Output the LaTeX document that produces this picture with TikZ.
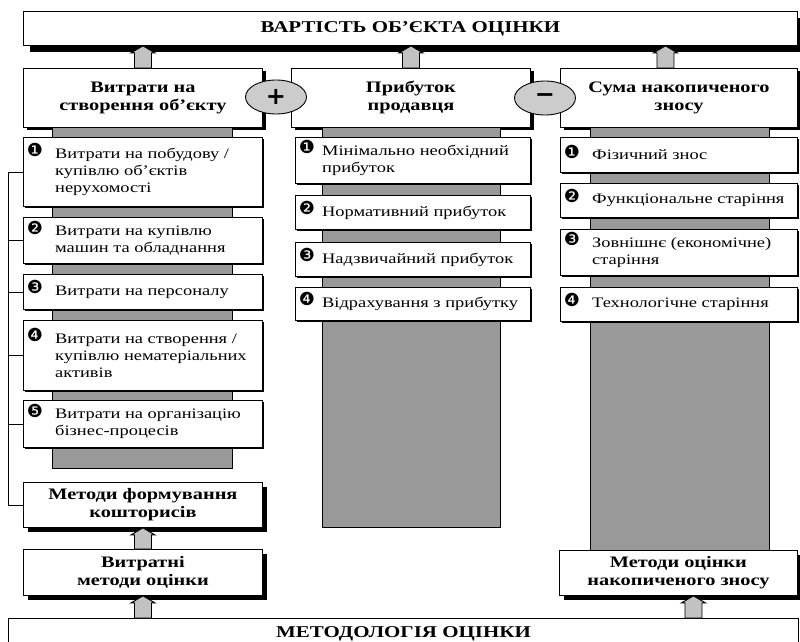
\documentclass[tikz,border=0pt]{standalone}
\usepackage{fontspec}
\setmainfont[FakeStretch=1.27]{Liberation Serif}
\newfontfamily\dingfont{DejaVu Sans}
\usetikzlibrary{shadows,calc,shapes.geometric}

\definecolor{colgray}{gray}{0.6}
\definecolor{arrgray}{gray}{0.76}
\definecolor{ovalgray}{gray}{0.8}

\tikzset{
  framebox/.style={draw=black, line width=0.9pt, fill=white, inner sep=0pt, anchor=north west},
  bigshadow/.style={general shadow={fill=black, shadow xshift=7pt, shadow yshift=-7pt}},
  midshadow/.style={general shadow={fill=black, shadow xshift=5pt, shadow yshift=-5pt}},
  hdrshadow/.style={general shadow={fill=black, shadow xshift=4pt, shadow yshift=-3pt}},
  thinshadow/.style={general shadow={fill=black, shadow xshift=1.5pt, shadow yshift=-1.5pt}},
  hdrbox/.style={framebox, hdrshadow, align=center, font=\bfseries\fontsize{16}{18}\selectfont},
  methbox/.style={framebox, midshadow, align=center, font=\bfseries\fontsize{16}{18}\selectfont},
  itembox/.style={framebox, thinshadow},
  itemtext/.style={anchor=west, align=left, inner sep=0pt, font=\fontsize{14.5}{17}\selectfont},
  bulletmark/.style={inner sep=0pt, font=\dingfont\fontsize{18}{18}\selectfont},
  column/.style={draw=black, line width=0.9pt, fill=colgray, anchor=north west, inner sep=0pt},
  sign/.style={ellipse, draw=black, line width=0.9pt, fill=ovalgray, minimum width=61pt,
    minimum height=34pt, inner sep=0pt, font=\dingfont\bfseries\fontsize{24}{24}\selectfont},
  liftstyle/.style={draw=black, line width=0.9pt, fill=arrgray},
  bracket/.style={draw=black, line width=0.8pt}
}

% one numbered entry: name, x, top y, width, height, text indent, bullet, text
\newcommand\entry[8]{%
  \node[itembox, minimum width=#4, minimum height=#5] (#1) at (#2,#3) {};
  \node[itemtext] (#1t) at ($(#1.west)+(#6,0)$) {#8};
  \node[bulletmark] (#1b) at ($(#1.west |- #1t.north)+(12,2)$) {#7};
}

% block arrow pointing up: x reference, lower end, upper end
\newcommand\liftarrow[3]{%
  \path let \p0=(#1), \p1=(#2), \p2=(#3) in
    [liftstyle] (\x0-8.5pt,\y1) -- (\x0-8.5pt,\y2-7pt) -- (\x0-12pt,\y2-7pt)
    -- (\x0,\y2) -- (\x0+12pt,\y2-7pt) -- (\x0+8.5pt,\y2-7pt)
    -- (\x0+8.5pt,\y1) -- cycle;
}

\begin{document}
\begin{tikzpicture}[x=1pt, y=-1pt]
\useasboundingbox (0,0) rectangle (800,642);

% result on top
\node[framebox, bigshadow, minimum width=774, minimum height=34,
      font=\bfseries\fontsize{16.5}{18}\selectfont] (top) at (23,11)
      {ВАРТІСТЬ ОБ’ЄКТА ОЦІНКИ};

% three components
\node[hdrbox, minimum width=239, minimum height=59] (hdrL) at (23,68)
      {Витрати на\\створення об’єкту};
\node[hdrbox, minimum width=239, minimum height=59] (hdrM) at (291,68)
      {Прибуток\\продавця};
\node[hdrbox, minimum width=237, minimum height=59] (hdrR) at (560,68)
      {Сума накопиченого\\зносу};

% grey spines behind the lists
\node[column, minimum width=180, minimum height=341] (colL) at (52,127) {};
\node[column, minimum width=178, minimum height=400] (colM) at (322,127) {};
\node[column, minimum width=179, minimum height=423] (colR) at (590,127) {};

% signs between the components
\node[sign] (plus) at (276,97) {+};
\node[sign] (minus) at (545,98) {−};

% cost items
\entry{l1}{23}{137}{239}{69}{32}{❶}{Витрати на побудову /\\купівлю об’єктів\\нерухомості}
\entry{l2}{23}{217}{239}{46}{32}{❷}{Витрати на купівлю\\машин та обладнання}
\entry{l3}{23}{274}{239}{35}{32}{❸}{Витрати на персоналу}
\entry{l4}{23}{320}{239}{70}{32}{❹}{Витрати на створення /\\купівлю нематеріальних\\активів}
\entry{l5}{23}{400}{239}{47}{32}{❺}{Витрати на організацію\\бізнес-процесів}

% profit items
\entry{m1}{295}{137}{235}{46}{27}{❶}{Мінімально необхідний\\прибуток}
\entry{m2}{295}{195}{235}{34}{27}{❷}{Нормативний прибуток}
\entry{m3}{295}{242}{235}{34}{27}{❸}{Надзвичайний прибуток}
\entry{m4}{295}{287}{235}{33}{27}{❹}{Відрахування з прибутку}

% depreciation items
\entry{r1}{560}{137}{237}{35}{32}{❶}{Фізичний знос}
\entry{r2}{560}{183}{237}{34}{32}{❷}{Функціональне старіння}
\entry{r3}{560}{229}{237}{46}{32}{❸}{Зовнішнє (економічне)\\старіння}
\entry{r4}{560}{287}{237}{34}{32}{❹}{Технологічне старіння}

% method boxes
\node[methbox, minimum width=239, minimum height=45] (methL) at (23,482)
      {Методи формування\\кошторисів};
\node[methbox, minimum width=239, minimum height=46] (costL) at (23,549)
      {Витратні\\методи оцінки};
\node[methbox, minimum width=238, minimum height=45] (methR) at (559,550)
      {Методи оцінки\\накопиченого зносу};

% methodology base
\node[framebox, minimum width=790, minimum height=30,
      font=\bfseries\fontsize{16.5}{18}\selectfont] (base) at (8,618)
      {МЕТОДОЛОГІЯ ОЦІНКИ};

% bracket joining the cost items to the estimate methods
\coordinate (br) at (8,0);
\draw[bracket] (l1.west) -- (l1.west -| br) -- (methL.west -| br) -- (methL.west);
\foreach \n in {l2,l3,l4,l5}
  \draw[bracket] (\n.west) -- (\n.west -| br);

% upward flows
\liftarrow{hdrL.north}{hdrL.north}{top.south}
\liftarrow{hdrM.north}{hdrM.north}{top.south}
\liftarrow{$(hdrR.north)+(-13.5,0)$}{hdrR.north}{top.south}
\liftarrow{costL.north}{costL.north}{methL.south}
\liftarrow{costL.south}{base.north}{costL.south}
\liftarrow{$(methR.south)+(15,0)$}{base.north}{methR.south}
\end{tikzpicture}
\end{document}
